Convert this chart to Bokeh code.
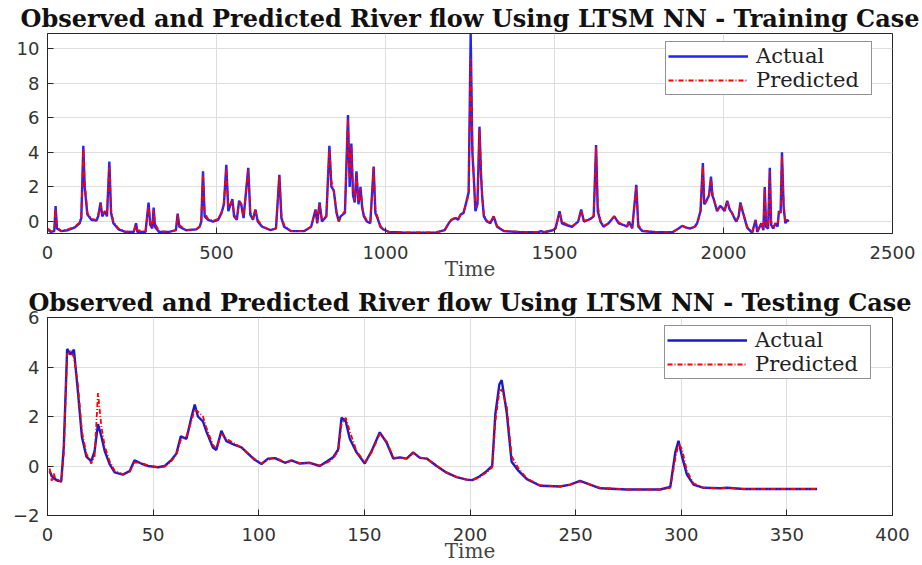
from bokeh.plotting import figure
from bokeh.models import Range1d, FixedTicker, Legend, LegendItem, Title
from bokeh.layouts import column
from bokeh.embed import file_html
from bokeh.resources import INLINE

# ---------------- data: training case ----------------
tr_time = [0, 10, 20, 24, 28, 40, 60, 80, 95, 100, 106, 110, 118, 130, 145, 150, 157, 162, 170, 176,
           183, 188, 195, 210, 230, 255, 262, 266, 290, 299, 304, 310, 314, 318, 330, 360, 380, 385, 390, 410,
           440, 450, 455, 460, 465, 475, 490, 505, 515, 522, 529, 535, 547, 552, 560, 567, 573, 580, 594, 600,
           608, 615, 622, 635, 660, 676, 686, 692, 700, 720, 760, 780, 793, 798, 805, 812, 825, 834, 840, 847,
           855, 862, 867, 880, 889, 894, 899, 904, 909, 914, 920, 926, 931, 936, 945, 955, 965, 970, 978, 985,
           994, 1010, 1050, 1100, 1150, 1175, 1187, 1195, 1207, 1215, 1222, 1231, 1240, 1246, 1252, 1257, 1261, 1266, 1272, 1278,
           1283, 1286, 1291, 1300, 1310, 1320, 1325, 1330, 1350, 1400, 1450, 1460, 1470, 1495, 1503, 1515, 1522, 1535, 1552, 1570,
           1579, 1587, 1600, 1606, 1616, 1623, 1628, 1636, 1645, 1660, 1677, 1690, 1705, 1715, 1720, 1730, 1742, 1748, 1760, 1800,
           1850, 1867, 1878, 1890, 1902, 1915, 1922, 1932, 1939, 1943, 1947, 1957, 1963, 1967, 1971, 1981, 1990, 1996, 2003, 2011,
           2018, 2025, 2032, 2038, 2045, 2050, 2055, 2060, 2070, 2085, 2095, 2100, 2112, 2118, 2122, 2126, 2132, 2137, 2141, 2147,
           2154, 2160, 2164, 2169, 2173, 2178, 2183, 2188, 2193]
tr_actual = [-0.45, -0.60, -0.55, 0.90, -0.40, -0.55, -0.50, -0.35, -0.10, 0.20, 4.37, 2.00, 0.40, 0.10, 0.05, 0.30, 1.10, 0.30, 0.60, 0.30,
             3.47, 0.50, -0.10, -0.45, -0.60, -0.60, -0.10, -0.60, -0.60, 1.10, -0.20, -0.40, 0.80, -0.30, -0.60, -0.60, -0.50, 0.46, -0.30, -0.50,
             -0.45, -0.30, 0.00, 2.90, 0.30, 0.10, 0.00, 0.10, 0.50, 1.00, 3.28, 0.60, 1.30, 0.30, 0.10, 1.20, 1.00, 0.20, 3.10, 0.40,
             0.10, 0.70, 0.00, -0.30, -0.50, -0.40, 2.70, 0.20, -0.30, -0.55, -0.55, -0.30, 0.70, -0.10, 1.10, 0.00, 0.30, 4.37, 2.00, 1.80,
             0.50, 0.00, 0.30, 0.50, 6.15, 2.00, 4.50, 1.50, 1.10, 2.90, 1.00, 2.00, 0.80, 0.30, 0.00, -0.10, 3.18, 0.50, 0.10, -0.30,
             -0.46, -0.60, -0.63, -0.65, -0.63, -0.50, -0.10, 0.10, 0.20, 0.10, 0.40, 0.50, 1.20, 1.70, 10.86, 4.00, 2.60, 0.60, 1.00, 5.48,
             2.50, 1.45, 0.30, 0.00, -0.10, 0.30, 0.00, -0.30, -0.55, -0.62, -0.62, -0.55, -0.62, -0.50, -0.40, 0.60, -0.10, -0.20, -0.30, 0.00,
             0.70, 0.00, 0.10, 0.15, 0.30, 4.42, 0.60, 0.00, -0.30, -0.10, 0.30, -0.10, -0.20, -0.30, 0.00, -0.40, 2.12, -0.30, -0.55, -0.62,
             -0.60, -0.40, -0.25, -0.35, -0.40, -0.30, -0.10, 0.60, 3.38, 1.00, 1.10, 1.50, 2.60, 1.50, 1.30, 0.60, 0.90, 0.80, 0.60, 1.20,
             0.70, 0.50, 0.20, 0.00, 0.30, 1.10, 0.70, 0.35, -0.35, -0.65, 0.10, -0.60, -0.10, -0.50, 2.00, -0.30, -0.40, 3.10, -0.20, -0.40,
             -0.10, -0.30, 0.60, 0.50, 4.00, 0.80, -0.10, 0.10, 0.00]
tr_pred = [-0.40, -0.55, -0.50, 0.75, -0.30, -0.55, -0.45, -0.30, -0.05, 0.30, 4.20, 2.30, 0.50, 0.15, 0.10, 0.40, 1.00, 0.45, 0.55, 0.40,
           3.30, 0.70, 0.00, -0.40, -0.58, -0.58, -0.20, -0.50, -0.58, 0.90, 0.00, -0.30, 0.70, -0.10, -0.55, -0.60, -0.50, 0.40, -0.20, -0.50,
           -0.45, -0.30, 0.05, 2.80, 0.50, 0.15, 0.05, 0.15, 0.55, 1.10, 3.10, 0.80, 1.20, 0.40, 0.15, 1.10, 1.05, 0.30, 3.00, 0.60,
           0.20, 0.65, 0.10, -0.25, -0.50, -0.40, 2.60, 0.40, -0.20, -0.55, -0.55, -0.30, 0.65, 0.00, 1.00, 0.10, 0.30, 4.20, 2.30, 1.70,
           0.60, 0.05, 0.30, 0.60, 5.95, 2.40, 4.30, 1.80, 1.20, 2.80, 1.20, 1.90, 0.90, 0.40, 0.05, -0.05, 3.10, 0.70, 0.15, -0.25,
           -0.45, -0.60, -0.62, -0.63, -0.62, -0.50, -0.10, 0.10, 0.25, 0.15, 0.40, 0.55, 1.10, 1.60, 9.40, 4.60, 2.70, 0.80, 1.00, 5.30,
           2.80, 1.50, 0.40, 0.05, -0.05, 0.30, 0.05, -0.25, -0.52, -0.60, -0.60, -0.55, -0.60, -0.50, -0.40, 0.50, 0.00, -0.15, -0.28, 0.00,
           0.65, 0.05, 0.10, 0.15, 0.35, 4.30, 0.90, 0.05, -0.25, -0.10, 0.30, -0.05, -0.20, -0.25, 0.00, -0.35, 2.00, -0.20, -0.52, -0.60,
           -0.60, -0.40, -0.25, -0.35, -0.40, -0.30, -0.10, 0.55, 3.20, 1.30, 1.10, 1.45, 2.50, 1.70, 1.30, 0.65, 0.85, 0.80, 0.65, 1.15,
           0.75, 0.50, 0.25, 0.05, 0.30, 1.05, 0.75, 0.40, -0.30, -0.60, 0.05, -0.50, -0.10, -0.45, 1.90, -0.10, -0.35, 2.90, 0.00, -0.35,
           -0.10, -0.25, 0.55, 0.55, 3.80, 1.00, 0.00, 0.10, 0.05]

# ---------------- data: testing case ----------------
te_time = [1, 2, 3, 4, 5, 6.5, 7.7, 9.3, 10.9, 12.5, 14.4, 16.3, 18.4, 20.7, 22.3, 23.9, 25.5, 27.1, 29.4, 31.8,
           35.7, 38.9, 41.2, 44.4, 47.6, 52.4, 55.5, 58.7, 61, 63.1, 65.8, 68.1, 69.7, 71.2, 73.6, 75.2, 78.3, 79.9, 82.3, 84.7,
           88.6, 91.8, 94.9, 98.1, 101.3, 104.4, 107.6, 112.4, 115.5, 119.4, 124.2, 128.9, 132, 135.2, 137.6, 139.2, 141.2, 143.1, 146.3, 150.2,
           153.4, 157.3, 160.5, 163.7, 166.8, 170, 173.1, 176.3, 179.5, 184.2, 188.9, 193.7, 198.4, 201, 204, 208, 210.5, 212, 213.9, 215,
           217.4, 219.7, 223, 226.9, 233.2, 242.7, 247.4, 252.1, 255.3, 261.6, 274.2, 290, 294.8, 297.2, 298.7, 300.3, 302.7, 305.8, 310.6, 318.5,
           321.6, 329.5, 364.3]
te_actual = [-0.20, -0.40, -0.50, -0.55, -0.60, -0.62, 0.77, 4.73, 4.50, 4.70, 3.00, 1.17, 0.38, 0.20, 0.60, 1.69, 1.20, 0.60, 0.08, -0.26,
             -0.35, -0.20, 0.23, 0.10, 0.00, -0.05, 0.00, 0.25, 0.50, 1.20, 1.10, 1.96, 2.48, 2.00, 1.80, 1.40, 0.75, 0.65, 1.42, 1.00,
             0.85, 0.75, 0.50, 0.25, 0.08, 0.30, 0.32, 0.13, 0.23, 0.10, 0.13, 0.00, 0.17, 0.35, 0.67, 1.95, 1.80, 1.10, 0.55, 0.10,
             0.60, 1.36, 0.95, 0.30, 0.35, 0.30, 0.55, 0.33, 0.30, 0.00, -0.27, -0.45, -0.55, -0.57, -0.45, -0.20, 0.00, 2.10, 3.30, 3.47,
             2.15, 0.17, -0.20, -0.53, -0.80, -0.83, -0.75, -0.60, -0.70, -0.90, -0.95, -0.95, -0.85, 0.56, 1.02, 0.40, -0.35, -0.75, -0.88, -0.90,
             -0.88, -0.93, -0.93]
te_pred = [-0.10, -0.60, -0.30, -0.60, -0.55, -0.65, 0.50, 4.50, 4.65, 4.40, 3.30, 1.40, 0.50, 0.10, 0.40, 2.95, 1.60, 0.80, 0.20, -0.20,
           -0.33, -0.25, 0.15, 0.12, 0.02, -0.05, -0.02, 0.20, 0.45, 1.05, 1.20, 1.80, 2.30, 2.20, 2.00, 1.55, 0.85, 0.70, 1.30, 1.10,
           0.90, 0.75, 0.52, 0.28, 0.10, 0.25, 0.35, 0.15, 0.20, 0.12, 0.12, 0.02, 0.12, 0.30, 0.60, 1.70, 1.95, 1.40, 0.60, 0.15,
           0.55, 1.30, 1.00, 0.35, 0.33, 0.30, 0.52, 0.35, 0.30, 0.02, -0.25, -0.45, -0.55, -0.57, -0.48, -0.25, -0.05, 1.80, 3.00, 3.10,
           2.40, 0.40, -0.10, -0.50, -0.78, -0.82, -0.75, -0.62, -0.70, -0.88, -0.95, -0.95, -0.88, 0.30, 0.90, 0.70, -0.20, -0.70, -0.88, -0.90,
           -0.88, -0.93, -0.93]

tr_xticks = [0, 500, 1000, 1500, 2000, 2500]
tr_yticks = [0, 2, 4, 6, 8, 10]
te_xticks = [0, 50, 100, 150, 200, 250, 300, 350, 400]
te_yticks = [-2, 0, 2, 4, 6]

titles = ["Observed and Predicted River flow Using LTSM NN - Training Case",
          "Observed and Predicted River flow Using LTSM NN - Testing Case"]
x_label = "Time"
series_names = ["Actual", "Predicted"]

AX = "#262626"
SERIF = "DejaVu Serif"
SANS = "DejaVu Sans"


def make_panel(t, a, pr, xr, yr, xt, yt, title, h, top, bottom, leg_xy, blue):
    p = figure(width=922, height=h, output_backend="svg", toolbar_location=None,
               x_range=Range1d(*xr), y_range=Range1d(*yr),
               min_border_left=47, min_border_right=30,
               min_border_top=top, min_border_bottom=bottom,
               background_fill_color="white", border_fill_color="white")
    p.title = Title(text=title, align="center", text_font=SERIF, text_font_style="bold",
                    text_font_size="24px", text_color="#111111", standoff=2)
    p.outline_line_color = AX
    p.outline_line_width = 1
    for ax in (p.xaxis, p.yaxis):
        ax.axis_line_color = AX
        ax.major_tick_line_color = AX
        ax.major_tick_in = 6
        ax.major_tick_out = 0
        ax.minor_tick_line_color = None
        ax.major_label_text_font = SANS
        ax.major_label_text_font_size = "18px"
        ax.major_label_text_color = "#333333"
    p.xaxis.ticker = FixedTicker(ticks=xt)
    p.yaxis.ticker = FixedTicker(ticks=yt)
    p.xaxis.major_label_standoff = 12
    p.yaxis.major_label_standoff = 8
    p.xaxis.axis_label = x_label
    p.xaxis.axis_label_text_font = SERIF
    p.xaxis.axis_label_text_font_style = "normal"
    p.xaxis.axis_label_text_font_size = "20px"
    p.xaxis.axis_label_text_color = "#444444"
    p.xaxis.axis_label_standoff = -5
    p.xgrid.ticker = FixedTicker(ticks=xt)
    p.ygrid.ticker = FixedTicker(ticks=yt)
    p.xgrid.grid_line_color = "#dddddd"
    p.ygrid.grid_line_color = "#dddddd"

    r1 = p.line(t, a, line_color=blue, line_width=2.4)
    r2 = p.line(t, pr, line_color="#ff0000", line_width=1.8, line_dash="5 2 1 2")
    leg = Legend(items=[LegendItem(label=series_names[0], renderers=[r1]),
                        LegendItem(label=series_names[1], renderers=[r2])],
                 location=leg_xy, orientation="vertical")
    leg.border_line_color = AX
    leg.border_line_width = 1
    leg.background_fill_color = "white"
    leg.background_fill_alpha = 1
    leg.label_text_font = SERIF
    leg.label_text_font_size = "21px"
    leg.label_text_color = "#222222"
    leg.glyph_width = 80
    leg.glyph_height = 18
    leg.label_height = 18
    leg.label_width = 113
    leg.label_standoff = 8
    leg.spacing = 0
    leg.padding = 2
    leg.margin = 0
    p.add_layout(leg)
    return p


p1 = make_panel(tr_time, tr_actual, tr_pred, (0, 2500), (-0.69, 10.86), tr_xticks, tr_yticks,
                titles[0], 283, 33, 49, (618, 138), "#2222ff")
p2 = make_panel(te_time, te_actual, te_pred, (0, 400), (-2, 6), te_xticks, te_yticks,
                titles[1], 282, 34, 47, (617, 136), "#1a1acc")

layout = column(p1, p2, spacing=0)
open("out.html", "w").write(file_html(layout, INLINE))
